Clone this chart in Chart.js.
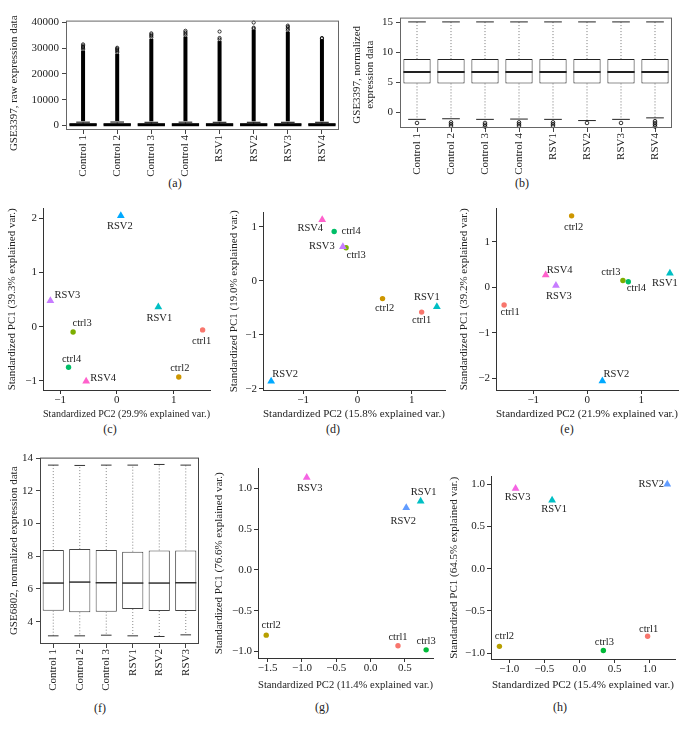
<!DOCTYPE html>
<html>
<head>
<meta charset="utf-8">
<script src="https://cdn.jsdelivr.net/npm/chart.js@4.4.1/dist/chart.umd.min.js"></script>
<style>
  body { margin: 0; background: #fff; width: 685px; height: 729px; position: relative; overflow: hidden; font-family: "Liberation Serif", serif; }
  .wrap { position: absolute; }
  .cap { position: absolute; font-size: 12px; color: #222; transform: translate(-50%, -50%); white-space: nowrap; }
</style>
</head>
<body>
<div class="cap" style="left:175px;top:183px">(a)</div>
<div class="cap" style="left:522px;top:183px">(b)</div>
<div class="cap" style="left:110px;top:429px">(c)</div>
<div class="cap" style="left:333px;top:429px">(d)</div>
<div class="cap" style="left:567px;top:429px">(e)</div>
<div class="cap" style="left:100px;top:708px">(f)</div>
<div class="cap" style="left:322px;top:707px">(g)</div>
<div class="cap" style="left:560px;top:707px">(h)</div>
<script>
// ---- data ----
// GSE3397 samples
const samples8 = ['Control 1', 'Control 2', 'Control 3', 'Control 4', 'RSV1', 'RSV2', 'RSV3', 'RSV4'];

// (a) raw expression box stats
const rawQ1 = [80, 80, 80, 80, 80, 80, 80, 80];
const rawMed = [250, 250, 250, 250, 250, 250, 250, 250];
const rawQ3 = [700, 720, 700, 700, 700, 700, 700, 700];
const rawLo = [10, 10, 10, 10, 10, 10, 10, 10];
const rawHi = [1250, 1300, 1200, 1250, 1200, 1200, 1200, 1200];
const rawDenseTop = [29000, 27800, 33600, 34500, 32800, 37200, 36400, 33500];
const rawOutliers = [
  [29500, 30000, 30500, 31000, 31500],
  [28300, 28800, 29300, 29800, 30200],
  [34200, 34800, 35300, 35800],
  [35000, 35600, 36200, 36800],
  [33400, 34000, 36500],
  [37600, 38000, 40000],
  [37000, 37600, 38300, 38800],
  [33800, 34000]
];
const rawTicks = [0, 10000, 20000, 30000, 40000];

// (b) normalized expression box stats
const normQ1 = [4.8, 4.8, 4.8, 4.8, 4.8, 4.8, 4.8, 4.8];
const normMed = [6.7, 6.7, 6.7, 6.7, 6.7, 6.7, 6.7, 6.7];
const normQ3 = [8.85, 8.85, 8.85, 8.85, 8.85, 8.85, 8.85, 8.85];
const normLo = [-1.2, -1.1, -1.2, -1.15, -1.2, -1.4, -1.2, -0.95];
const normHi = [15.05, 15.05, 15.05, 15.05, 15.05, 15.05, 15.05, 15.05];
const normOutliers = [
  [-1.8],
  [-1.7, -2.0, -2.3],
  [-1.8, -2.1, -2.4],
  [-1.7, -2.0, -2.3],
  [-1.7, -2.0, -2.3],
  [-1.8],
  [-1.8],
  [-1.5, -1.8, -2.1, -2.4]
];
const normTicks = [0, 5, 10, 15];

// (f) GSE6802 normalized box stats
const samples6 = ['Control 1', 'Control 2', 'Control 3', 'RSV1', 'RSV2', 'RSV3'];
const fQ1 = [4.67, 4.57, 4.61, 4.77, 4.65, 4.65];
const fMed = [6.36, 6.42, 6.38, 6.36, 6.36, 6.38];
const fQ3 = [8.38, 8.44, 8.38, 8.28, 8.36, 8.36];
const fLo = [3.13, 3.13, 3.17, 3.13, 3.09, 3.19];
const fHi = [13.58, 13.56, 13.58, 13.58, 13.62, 13.58];
const fTicks = [4, 6, 8, 10, 12, 14];

// PCA points, GSE3397
const names8 = ['ctrl1', 'ctrl2', 'ctrl3', 'ctrl4', 'RSV1', 'RSV2', 'RSV3', 'RSV4'];
const cPC2 = [1.51, 1.09, -0.77, -0.85, 0.73, 0.07, -1.17, -0.54];
const cPC1 = [-0.06, -0.93, -0.10, -0.75, 0.365, 2.05, 0.48, -1.01];
const dPC2 = [1.18, 0.46, -0.21, -0.43, 1.46, -1.59, -0.27, -0.65];
const dPC1 = [-0.58, -0.33, 0.61, 0.91, -0.48, -1.86, 0.63, 1.13];
const ePC2 = [-1.54, -0.29, 0.66, 0.76, 1.53, 0.28, -0.58, -0.77];
const ePC1 = [-0.39, 1.57, 0.15, 0.12, 0.31, -2.06, 0.04, 0.27];

// PCA points, GSE6802
const names6 = ['ctrl1', 'ctrl2', 'ctrl3', 'RSV1', 'RSV2', 'RSV3'];
const gPC2 = [0.40, -1.52, 0.81, 0.73, 0.52, -0.93];
const gPC1 = [-0.93, -0.80, -0.98, 0.84, 0.76, 1.13];
const hPC2 = [0.97, -1.14, 0.34, -0.39, 1.25, -0.91];
const hPC1 = [-0.80, -0.92, -0.97, 0.81, 1.00, 0.95];

// tick labels
const ticksInt3 = [-1, 0, 1];
const cYTicks = [-1, 0, 1, 2];
const dYTicks = [-2, -1, 0, 1];
const eYTicks = [-2, -1, 0, 1];
const gXTicks = [-1.5, -1.0, -0.5, 0.0, 0.5];
const hXTicks = [-1.0, -0.5, 0.0, 0.5, 1.0];
const ghYTicks = [-1.0, -0.5, 0.0, 0.5, 1.0];

// ---- styling / layout ----
const hue8 = ['#F8766D', '#CD9600', '#7CAE00', '#00BE67', '#00BFC4', '#00A9FF', '#C77CFF', '#FF61CC'];
const hue6 = ['#F8766D', '#B79F00', '#00BA38', '#00BFC4', '#619CFF', '#F564E3'];
const FONT = '"Liberation Serif", "Times New Roman", serif';
const TXT = '#222';

// label offsets (px) next to each point
const cOff = [[-1, 11], [1, -9], [9, -9], [3, -8], [1, 11], [-1, 11], [17, -5], [17, -3]];
const dOff = [[0, 8], [2, 10], [10, 7], [17, 0], [-10, -9], [14, -7], [-21, 0], [-12, 9]];
const eOff = [[6, 7], [2, 11], [-12, -8], [8, 6], [-5, 10], [14, -7], [3, 11], [14, -5]];
const gOff = [[0, -9], [5, -10], [0, -9], [3, -9], [-3, 13], [3, 11]];
const hOff = [[1, -7], [5, -10], [1, -8], [2, 9], [-16, 0], [2, 9]];

const minus = s => s.replace('-', '\u2212');

// per-panel geometry (page px): plot area, y-title centre x, bottom of x axis box
function makePanel(g, config) {
  const lh = 13.2;
  const left = Math.round(g.ytx - lh / 2);
  const top = g.T - 8;
  const w = g.R + 6 - left;
  const h = g.bottom - top;
  const div = document.createElement('div');
  div.className = 'wrap';
  div.style.cssText = `left:${left}px;top:${top}px;width:${w}px;height:${h}px`;
  const cv = document.createElement('canvas');
  div.appendChild(cv);
  document.body.appendChild(div);
  config.options.responsive = true;
  config.options.maintainAspectRatio = false;
  config.options.animation = false;
  config.options.layout = { padding: { top: 8, right: 6, left: 0, bottom: 0 } };
  config.options.scales.y.afterFit = s => { s.width = g.L - left; };
  config.options.scales.x.afterFit = s => { s.height = g.bottom - g.B; };
  config.options.plugins.yTitle.shift = g.shift || 0;
  return new Chart(cv.getContext('2d'), config);
}

function setTicks(vals) {
  return s => { s.ticks = vals.map(v => ({ value: v })); };
}

// y axis title, drawn rotated without squeezing to the axis height
const yTitle = {
  id: 'yTitle',
  afterDraw(chart, args, o) {
    if (!o.text) return;
    const { ctx, chartArea: a } = chart;
    const lines = Array.isArray(o.text) ? o.text : [o.text];
    const lh = 12.1;
    ctx.save();
    ctx.font = `11px ${FONT}`;
    ctx.fillStyle = TXT;
    ctx.textAlign = 'center';
    ctx.textBaseline = 'middle';
    ctx.translate(chart.scales.y.left + 6.6, (a.top + a.bottom) / 2 + o.shift);
    ctx.rotate(-Math.PI / 2);
    lines.forEach((t, i) => ctx.fillText(t, 0, i * lh));
    ctx.restore();
  }
};

// box plot extras: whiskers, caps, median, outliers and frame
const boxExtras = {
  id: 'boxExtras',
  afterDatasetsDraw(chart, args, o) {
    if (!o.med) return;
    const { ctx, chartArea: a } = chart;
    const y = chart.scales.y;
    const meta = chart.getDatasetMeta(0);
    const py = v => y.getPixelForValue(v);
    const seg = (x1, y1, x2, y2) => { ctx.beginPath(); ctx.moveTo(x1, y1); ctx.lineTo(x2, y2); ctx.stroke(); };
    ctx.save();
    meta.data.forEach((bar, i) => {
      const cx = bar.x, half = bar.width / 2, cap = half * o.capRatio;
      ctx.strokeStyle = o.whiskerColor;
      ctx.lineWidth = 1;
      ctx.setLineDash([1, 2]);
      seg(cx, py(o.q3[i]), cx, py(o.hi[i]));
      seg(cx, py(o.q1[i]), cx, py(o.lo[i]));
      ctx.setLineDash([]);
      ctx.strokeStyle = o.lineColor;
      seg(cx - cap, py(o.hi[i]), cx + cap, py(o.hi[i]));
      seg(cx - cap, py(o.lo[i]), cx + cap, py(o.lo[i]));
      ctx.lineWidth = o.medWidth;
      seg(cx - half, py(o.med[i]), cx + half, py(o.med[i]));
      if (o.dense) {
        ctx.lineWidth = 4;
        ctx.strokeStyle = '#000';
        seg(cx, py(o.hi[i]) - 1, cx, py(o.dense[i]));
      }
      if (o.outliers) {
        ctx.lineWidth = 0.8;
        ctx.strokeStyle = '#000';
        o.outliers[i].forEach(v => {
          ctx.beginPath();
          ctx.arc(cx, py(v), o.outR, 0, Math.PI * 2);
          ctx.stroke();
        });
      }
    });
    ctx.lineWidth = 1;
    ctx.strokeStyle = o.frame;
    ctx.strokeRect(a.left + 0.5, a.top + 0.5, a.right - a.left - 1, a.bottom - a.top - 1);
    ctx.restore();
  }
};

// text labels beside scatter points
const pointNames = {
  id: 'pointNames',
  afterDatasetsDraw(chart, args, o) {
    if (!o.names) return;
    const { ctx } = chart;
    const meta = chart.getDatasetMeta(0);
    ctx.save();
    ctx.font = `10.5px ${FONT}`;
    ctx.fillStyle = TXT;
    ctx.textAlign = 'center';
    ctx.textBaseline = 'middle';
    meta.data.forEach((pt, i) => {
      ctx.fillText(o.names[i], pt.x + o.offsets[i][0], pt.y + o.offsets[i][1]);
    });
    ctx.restore();
  }
};
Chart.register(boxExtras, pointNames, yTitle);

function boxConfig(labels, q1, q3, yMin, yMax, yTicks, yText, extras, boxColor, fmt) {
  return {
    type: 'bar',
    data: {
      labels: labels,
      datasets: [{
        data: q1.map((v, i) => [v, q3[i]]),
        backgroundColor: '#fff',
        borderColor: boxColor,
        borderWidth: 1,
        borderSkipped: false,
        barPercentage: 0.8,
        categoryPercentage: 1
      }]
    },
    options: {
      plugins: { legend: { display: false }, tooltip: { enabled: false }, boxExtras: extras, yTitle: { text: yText } },
      scales: {
        x: {
          grid: { display: true, offset: false, drawOnChartArea: false, tickLength: 4, color: '#444' },
          border: { display: false },
          ticks: { minRotation: 90, maxRotation: 90, padding: 1, color: TXT, font: { family: FONT, size: 11 } }
        },
        y: {
          min: yMin, max: yMax,
          afterBuildTicks: setTicks(yTicks),
          grid: { display: true, drawOnChartArea: false, tickLength: 4, color: '#444' },
          border: { display: false },
          ticks: { padding: 3, color: TXT, font: { family: FONT, size: 11 }, callback: fmt }
        }
      }
    }
  };
}

function scatterConfig(px, py, names, colors, xr, yr, xTicks, yTicks, xTitle, yText, offsets, fmt) {
  return {
    type: 'scatter',
    data: {
      datasets: [{
        data: px.map((v, i) => ({ x: v, y: py[i] })),
        pointStyle: names.map(n => n.startsWith('ctrl') ? 'circle' : 'triangle'),
        pointRadius: names.map(n => n.startsWith('ctrl') ? 2.7 : 4.5),
        pointBackgroundColor: colors,
        pointBorderWidth: 0
      }]
    },
    options: {
      plugins: { legend: { display: false }, tooltip: { enabled: false },
        pointNames: { names: names, offsets: offsets }, yTitle: { text: yText } },
      scales: {
        x: {
          type: 'linear', min: xr[0], max: xr[1],
          afterBuildTicks: setTicks(xTicks),
          grid: { display: true, drawOnChartArea: false, tickLength: 4, color: '#333' },
          border: { display: true, color: '#333' },
          ticks: { padding: 0, color: TXT, font: { family: FONT, size: 11 }, callback: fmt },
          title: { display: true, text: xTitle, padding: 0, color: TXT, font: { family: FONT, size: 11 } }
        },
        y: {
          type: 'linear', min: yr[0], max: yr[1],
          afterBuildTicks: setTicks(yTicks),
          grid: { display: true, drawOnChartArea: false, tickLength: 4, color: '#333' },
          border: { display: true, color: '#333' },
          ticks: { padding: 2, color: TXT, font: { family: FONT, size: 11 }, callback: fmt }
        }
      }
    }
  };
}

const fmtInt = v => minus(String(v));
const fmt1 = v => minus(v.toFixed(1));

// (a)
makePanel({ L: 66, T: 19, R: 339, B: 130, ytx: 15, bottom: 182, shift: 8 },
  boxConfig(samples8, rawQ1, rawQ3, -1800, 40760, rawTicks, 'GSE3397, raw expression data',
    { q1: rawQ1, q3: rawQ3, med: rawMed, lo: rawLo, hi: rawHi, dense: rawDenseTop, outliers: rawOutliers,
      outR: 1.6, capRatio: 0.5, medWidth: 3, whiskerColor: '#000', lineColor: '#000', frame: '#666' },
    '#000', v => String(v)));

// (b)
makePanel({ L: 400, T: 16, R: 672, B: 128, ytx: 358, bottom: 182, shift: 2 },
  boxConfig(samples8, normQ1, normQ3, -2.64, 15.77, normTicks, ['GSE3397, normalized', 'expression data'],
    { q1: normQ1, q3: normQ3, med: normMed, lo: normLo, hi: normHi, outliers: normOutliers,
      outR: 1.8, capRatio: 0.65, medWidth: 2, whiskerColor: '#777', lineColor: '#222', frame: '#666' },
    '#222', fmtInt));

// (c)
makePanel({ L: 43, T: 208, R: 210, B: 390, ytx: 13, bottom: 421 },
  scatterConfig(cPC2, cPC1, names8, hue8, [-1.3, 1.64], [-1.17, 2.18], ticksInt3, cYTicks,
    'Standardized PC2 (29.9% explained var.)', 'Standardized PC1 (39.3% explained var.)', cOff, fmtInt));

// (d)
makePanel({ L: 263, T: 212, R: 445, B: 390, ytx: 235, bottom: 421 },
  scatterConfig(dPC2, dPC1, names8, hue8, [-1.74, 1.61], [-2.02, 1.26], ticksInt3, dYTicks,
    'Standardized PC2 (15.8% explained var.)', 'Standardized PC1 (19.0% explained var.)', dOff, fmtInt));

// (e)
makePanel({ L: 496, T: 208, R: 678, B: 390, ytx: 465, bottom: 421 },
  scatterConfig(ePC2, ePC1, names8, hue8, [-1.69, 1.68], [-2.26, 1.73], ticksInt3, eYTicks,
    'Standardized PC2 (21.9% explained var.)', 'Standardized PC1 (39.2% explained var.)', eOff, fmtInt));

// (f)
makePanel({ L: 40, T: 456, R: 199, B: 644, ytx: 15, bottom: 696 },
  boxConfig(samples6, fQ1, fQ3, 2.63, 14.04, fTicks, 'GSE6802, normalized expression data',
    { q1: fQ1, q3: fQ3, med: fMed, lo: fLo, hi: fHi,
      outR: 1.8, capRatio: 0.5, medWidth: 1.5, whiskerColor: '#888', lineColor: '#333', frame: '#444' },
    '#444', fmtInt));

// (g)
makePanel({ L: 258, T: 468, R: 433, B: 658, ytx: 220, bottom: 692 },
  scatterConfig(gPC2, gPC1, names6, hue6, [-1.64, 0.91], [-1.08, 1.24], gXTicks, ghYTicks,
    'Standardized PC2 (11.4% explained var.)', 'Standardized PC1 (76.6% explained var.)', gOff, fmt1));

// (h)
makePanel({ L: 491, T: 476, R: 675, B: 659, ytx: 455, bottom: 692 },
  scatterConfig(hPC2, hPC1, names6, hue6, [-1.26, 1.36], [-1.07, 1.09], hXTicks, ghYTicks,
    'Standardized PC2 (15.4% explained var.)', 'Standardized PC1 (64.5% explained var.)', hOff, fmt1));
</script>
</body>
</html>
